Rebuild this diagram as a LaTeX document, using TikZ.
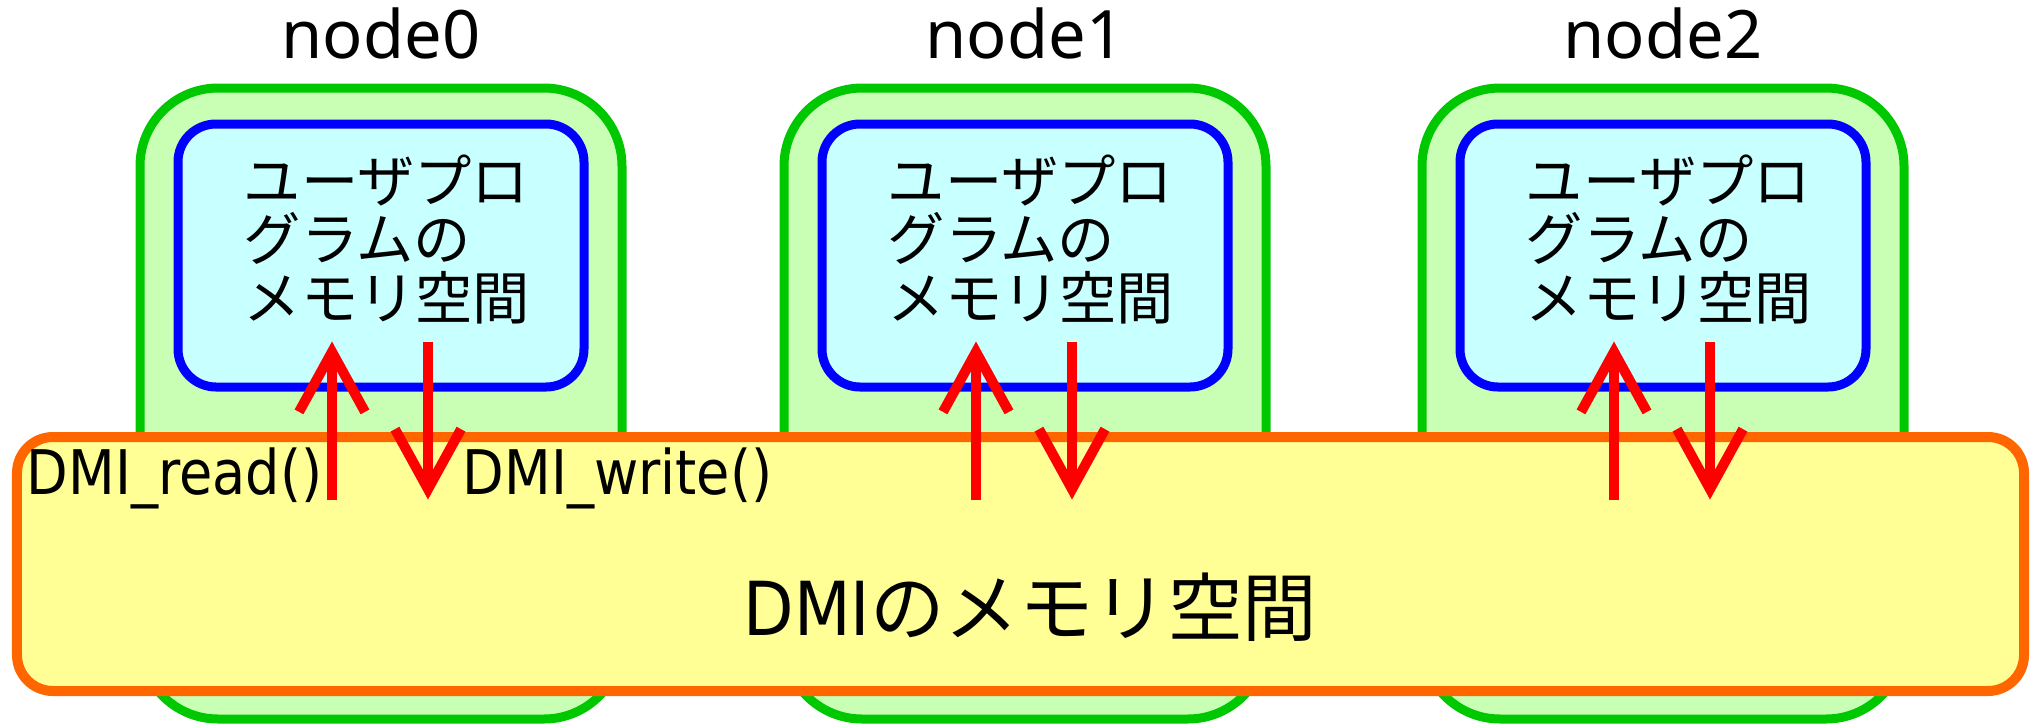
\documentclass[tikz,border=0pt]{standalone}
\usepackage{fontspec}
\setmainfont{Noto Sans}
\newfontfamily\jpfont{Noto Sans CJK JP}
\newfontfamily\dmifont[FakeStretch=0.88]{DejaVu Sans}
\usetikzlibrary{calc, positioning}
\usetikzlibrary{arrows.meta}
\definecolor{nodeline}{RGB}{0,200,0}
\definecolor{nodefill}{RGB}{200,255,180}
\definecolor{progline}{RGB}{0,0,255}
\definecolor{progfill}{RGB}{200,255,255}
\definecolor{dmiline}{RGB}{255,102,0}
\definecolor{dmifill}{RGB}{255,255,150}
\tikzset{
    nodebox/.style={draw=nodeline, fill=nodefill, line width=0.09cm,
        rounded corners=0.78cm, minimum width=4.82cm, minimum height=6.31cm},
    progbox/.style={draw=progline, fill=progfill, line width=0.09cm,
        rounded corners=0.38cm, minimum width=4.06cm, minimum height=2.63cm},
    dmibox/.style={draw=dmiline, fill=dmifill, line width=0.1cm,
        rounded corners=0.36cm, minimum width=20.07cm, minimum height=2.54cm},
    nodename/.style={font=\fontsize{19}{21}\selectfont},
    progtext/.style={align=left, font=\jpfont\fontsize{16.3}{16.6}\selectfont},
    funclabel/.style={font=\dmifont\fontsize{17.5}{20}\selectfont},
    dmilabel/.style={font=\jpfont\fontsize{21.2}{24}\selectfont},
    callarrow/.style={draw=red, line width=0.1cm,
        -{Straight Barb[length=0.6cm, width=0.66cm]}}
}

\begin{document}
\begin{tikzpicture}[inner sep=0pt]
  \useasboundingbox (0,0) rectangle (20.37,7.26);
  % one box per node
  \foreach \i/\x in {0/3.81, 1/10.25, 2/16.63} {
    \node[nodebox] (node\i) at (\x,3.225) {};
    \node[nodename, anchor=base] (name\i) at ([yshift=0.25cm]node\i.north) {node\i};
    \node[progbox, below=0.36cm of node\i.north] (prog\i) {};
    \node[progtext] (txt\i) at ([xshift=0.06cm, yshift=0.16cm]prog\i.center)
      {ユーザプロ\\グラムの\\メモリ空間};
  }

  \node[dmibox] (dmi) at (10.205,1.62) {};
  \node[dmilabel] (dmitext) at ([xshift=0.1cm, yshift=-0.43cm]dmi.center)
    {{\dmifont DMI}のメモリ空間};
  \node[funclabel, anchor=base west] (rd) at (0.26,2.32) {DMI\_read()};
  \node[funclabel, anchor=base west] (wr) at (4.62,2.32) {DMI\_write()};

  % read goes up, write goes down
  \foreach \i in {0,1,2} {
    \coordinate (rtop\i) at ($(prog\i.south)+(-0.49,0.5)$);
    \coordinate (rbot\i) at ($(prog\i.south)+(-0.49,-1.08)$);
    \coordinate (wtop\i) at ($(prog\i.south)+(0.47,0.5)$);
    \coordinate (wbot\i) at ($(prog\i.south)+(0.47,-1.08)$);
    \draw[callarrow] (rbot\i) -- (rtop\i);
    \draw[callarrow] (wtop\i) -- (wbot\i);
  }
\end{tikzpicture}
\end{document}
